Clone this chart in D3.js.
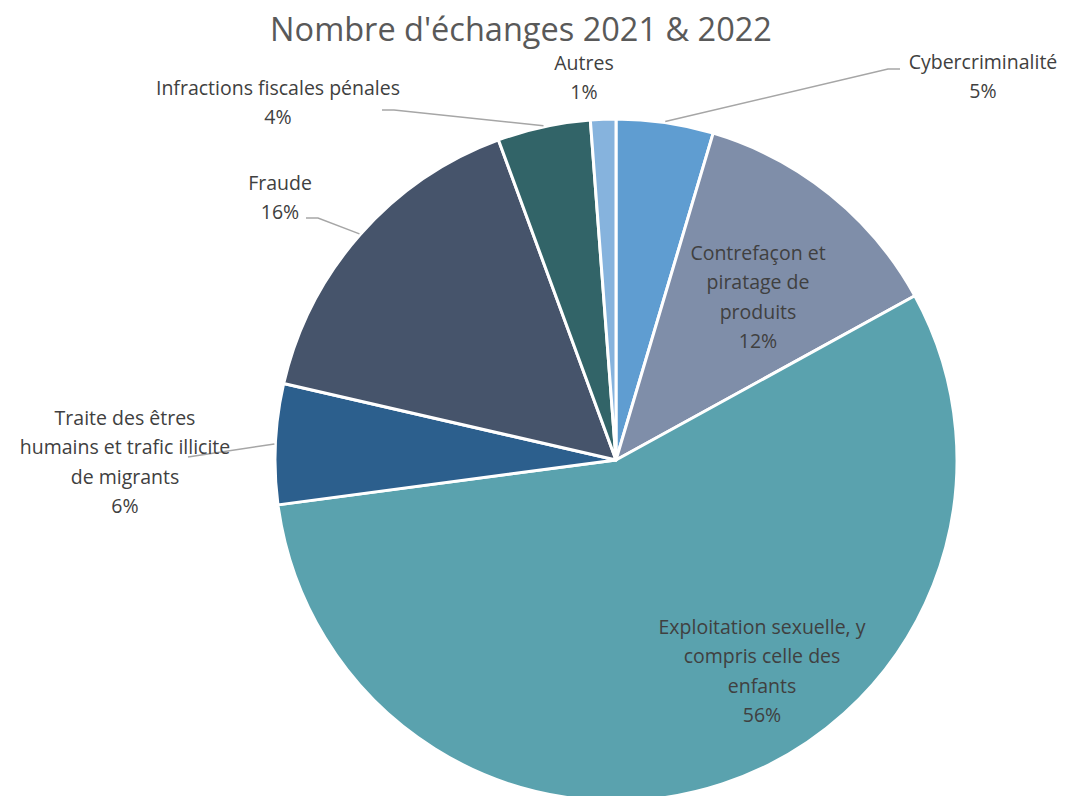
<!DOCTYPE html>
<html>
<head>
<meta charset="utf-8">
<script src="https://cdn.jsdelivr.net/npm/d3@7"></script>
<style>
  body { margin: 0; background: #fff; }
  text { font-family: "Open Sans", Lato, sans-serif; }
</style>
</head>
<body>
<div id="chart"></div>
<script>
(function () {

    // share of exchanges per crime area, 2021 & 2022 (clockwise from top)
    var categories = [
        'Cybercriminalité',
        'Contrefaçon et piratage de produits',
        'Exploitation sexuelle, y compris celle des enfants',
        'Traite des êtres humains et trafic illicite de migrants',
        'Fraude',
        'Infractions fiscales pénales',
        'Autres'
    ];

    var values = [4.6, 12.4, 55.9, 5.7, 15.8, 4.4, 1.2];

    var colourList = ['#5f9dd1', '#7f8ea9', '#5aa2ae', '#2c5f8d', '#46546b', '#326468', '#86b3dd'];

    var width = 1067, height = 796;
    var cx = 616, cy = 460, radius = 341;

    // label lines as broken in the original, plus where each label block sits
    var labelLayout = {
        'Cybercriminalité': { lines: ['Cybercriminalité'], x: 983, y: 62, leader: [[900, 69], [888, 69]] },
        'Contrefaçon et piratage de produits': { lines: ['Contrefaçon et', 'piratage de', 'produits'], x: 758, y: 253 },
        'Exploitation sexuelle, y compris celle des enfants': { lines: ['Exploitation sexuelle, y', 'compris celle des', 'enfants'], x: 762, y: 627 },
        'Traite des êtres humains et trafic illicite de migrants': { lines: ['Traite des êtres', 'humains et trafic illicite', 'de migrants'], x: 125, y: 418, leader: [[188, 457]] },
        'Fraude': { lines: ['Fraude'], x: 280, y: 183, leader: [[306, 218], [318, 218]] },
        'Infractions fiscales pénales': { lines: ['Infractions fiscales pénales'], x: 278, y: 88, leader: [[382, 110], [394, 110]] },
        'Autres': { lines: ['Autres'], x: 584, y: 63 }
    };

    var data = categories.map(function (c, i) {
        return { name: c, value: values[i] };
    });

    var colours = d3.scaleOrdinal()
        .domain(categories)
        .range(colourList);

    var total = d3.sum(values);
    var format = function (v) { return Math.round(v / total * 100) + '%'; };

    var svg = d3.select('#chart')
        .append('svg')
        .attr('width', width)
        .attr('height', height);

    // chart title
    svg.append('text')
        .attr('x', 521)
        .attr('y', 41)
        .attr('text-anchor', 'middle')
        .style('font-size', '32.5px')
        .style('fill', '#595959')
        .text("Nombre d'échanges 2021 & 2022");

    var pie = d3.pie()
        .sort(null)
        .value(function (d) { return d.value; });

    var arc = d3.arc()
        .innerRadius(0)
        .outerRadius(radius);

    var g = svg.append('g')
        .attr('transform', 'translate(' + cx + ',' + cy + ')');

    var arcs = pie(data);

    g.selectAll('.slice')
        .data(arcs)
        .enter()
        .append('path')
        .attr('class', 'slice')
        .attr('d', arc)
        .attr('fill', function (d) { return colours(d.data.name); })
        .attr('stroke', '#fff')
        .attr('stroke-width', 3)
        .attr('stroke-linejoin', 'round');

    // leader lines from the rim out to the label
    arcs.forEach(function (d) {
        var lay = labelLayout[d.data.name];
        if (!lay.leader) return;
        var mid = (d.startAngle + d.endAngle) / 2;
        var start = [cx + (radius + 1) * Math.sin(mid), cy - (radius + 1) * Math.cos(mid)];
        var pts = lay.leader.concat([start]);
        svg.append('path')
            .attr('d', d3.line()(pts))
            .attr('fill', 'none')
            .attr('stroke', '#a6a6a6')
            .attr('stroke-width', 1.5);
    });

    // data labels: category name and share
    var lineHeight = 29.5;

    arcs.forEach(function (d) {
        var lay = labelLayout[d.data.name];
        var t = svg.append('text')
            .attr('text-anchor', 'middle')
            .style('font-size', '19.5px')
            .style('fill', '#404040');
        lay.lines.concat([format(d.data.value)]).forEach(function (line, i) {
            t.append('tspan')
                .attr('x', lay.x)
                .attr('y', lay.y + i * lineHeight)
                .attr('dy', '0.35em')
                .text(line);
        });
    });

})()
</script>
</body>
</html>
